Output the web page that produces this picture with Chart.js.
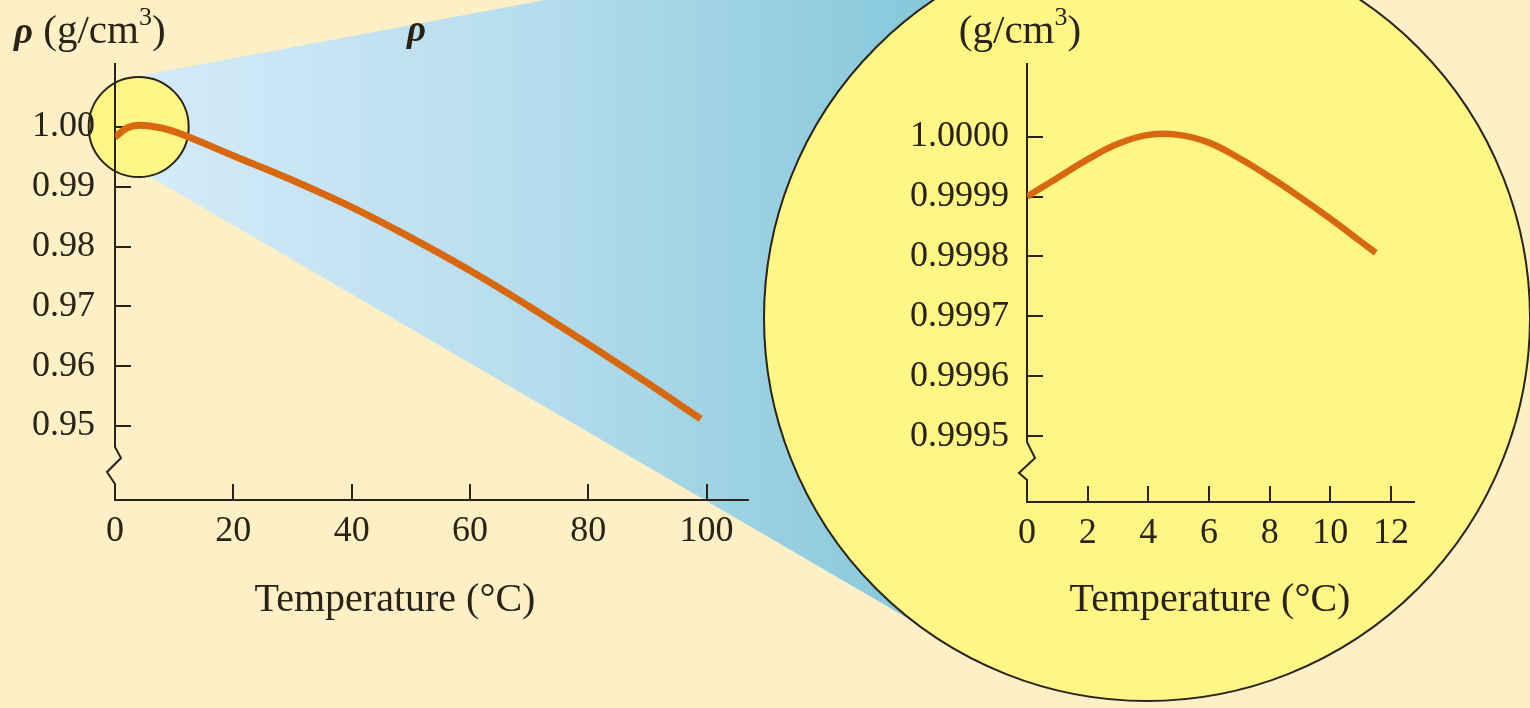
<!DOCTYPE html>
<html>
<head>
<meta charset="utf-8">
<title>Density of water vs temperature</title>
<script src="https://cdn.jsdelivr.net/npm/chart.js@4.4.1/dist/chart.umd.min.js"></script>
<style>
  html, body { margin: 0; padding: 0; background: #fdf0c6; overflow: hidden; }
  #wrap { position: relative; width: 1530px; height: 708px; }
  #wrap canvas { position: absolute; left: 0; top: 0; }
</style>
</head>
<body>
<div id="wrap">
  <canvas id="full-chart" width="1530" height="708"></canvas>
  <canvas id="zoom-chart" width="1530" height="708"></canvas>
</div>
<script>
// Water density, 0-100 °C
const fullTemps   = [0, 2, 4, 8, 12, 20, 30, 40, 50, 60, 70, 80, 90, 99];
const fullDensity = [0.9983, 0.9998, 1.0003, 0.9998, 0.9985, 0.9952, 0.9911,
                     0.9866, 0.9815, 0.9760, 0.9700, 0.9637, 0.9572, 0.9512];
const fullXTicks  = [0, 20, 40, 60, 80, 100];
const fullYTicks  = [0.95, 0.96, 0.97, 0.98, 0.99, 1.00];

// Close-up around the maximum, 0-12 °C
const zoomTemps   = [0, 1, 2, 3, 4, 5, 6, 7, 8, 9, 10, 11, 11.5];
const zoomDensity = [0.999900, 0.999931, 0.999962, 0.999988, 1.000003, 1.000003,
                     0.999990, 0.999964, 0.999933, 0.999899, 0.999863, 0.999825, 0.999806];
const zoomXTicks  = [0, 2, 4, 6, 8, 10, 12];
const zoomYTicks  = [0.9995, 0.9996, 0.9997, 0.9998, 0.9999, 1.0000];

const CREAM  = '#fdf0c6';
const YELLOW = '#fff686';
const INK    = '#2a2417';
const CURVE  = '#d8680f';
const SERIF  = "'Liberation Serif', 'DejaVu Serif', serif";
const TICK_FONT = { family: SERIF, size: 36 };
const TICK_LEN = 16;

function points(xs, ys) {
  return xs.map((x, i) => ({ x: x, y: ys[i] }));
}

// draw a row of text pieces (for superscripts), left/center aligned on a baseline
function drawRuns(ctx, runs, x, y, align) {
  let total = 0;
  runs.forEach(r => { ctx.font = r.font; total += ctx.measureText(r.text).width; });
  let cx = align === 'center' ? x - total / 2 : x;
  ctx.textBaseline = 'alphabetic';
  ctx.textAlign = 'left';
  runs.forEach(r => {
    ctx.font = r.font;
    ctx.fillText(r.text, cx, y + (r.dy || 0));
    cx += ctx.measureText(r.text).width;
  });
}

const unitRuns = [
  { text: '(g/cm', font: `41px ${SERIF}` },
  { text: '3', font: `26px ${SERIF}`, dy: -18 },
  { text: ')', font: `41px ${SERIF}` }
];
const rhoRun = { text: 'ρ', font: `italic bold 37px ${SERIF}` };

// cream page, blue magnifier wedge, both circles
const backdropPlugin = {
  id: 'backdrop',
  beforeDraw(chart) {
    const { ctx, width, height, scales: { x, y } } = chart;
    const cx = x.getPixelForValue(4), cy = y.getPixelForValue(1.0);
    ctx.save();
    ctx.fillStyle = CREAM;
    ctx.fillRect(0, 0, width, height);

    const grad = ctx.createLinearGradient(cx, 0, 920, 0);
    grad.addColorStop(0, '#d5ebf8');
    grad.addColorStop(0.5, '#b6dded');
    grad.addColorStop(1, '#86c8db');
    ctx.fillStyle = grad;
    ctx.beginPath();
    ctx.moveTo(cx, cy);
    ctx.lineTo(cx, cy - 51);
    ctx.lineTo(545, 0);
    ctx.lineTo(1200, 0);
    ctx.lineTo(1200, 660);
    ctx.lineTo(1000, 672);
    ctx.lineTo(cx + 12, cy + 50);
    ctx.closePath();
    ctx.fill();

    ctx.fillStyle = YELLOW;
    ctx.strokeStyle = INK;
    ctx.lineWidth = 2;
    ctx.beginPath();
    ctx.arc(1147, 318, 383, 0, Math.PI * 2);
    ctx.fill();
    ctx.stroke();

    ctx.beginPath();
    ctx.arc(cx, cy, 50, 0, Math.PI * 2);
    ctx.fill();
    ctx.stroke();
    ctx.restore();
  }
};

// tick marks pointing into the plot, and the y axis with its break mark
const axisPlugin = {
  id: 'inwardAxes',
  beforeDatasetsDraw(chart, args, opts) {
    const { ctx, chartArea: a, scales: { x, y } } = chart;
    ctx.save();
    ctx.strokeStyle = INK;
    ctx.lineWidth = 2;
    ctx.beginPath();
    x.ticks.forEach(t => {
      if (t.value === 0) return;
      const px = Math.round(x.getPixelForValue(t.value));
      ctx.moveTo(px, a.bottom);
      ctx.lineTo(px, a.bottom - TICK_LEN);
    });
    y.ticks.forEach(t => {
      const py = Math.round(y.getPixelForValue(t.value));
      ctx.moveTo(a.left, py);
      ctx.lineTo(a.left + TICK_LEN, py);
    });
    ctx.moveTo(a.left, a.top);
    opts.breakPath.forEach(([dx, dy]) => ctx.lineTo(a.left + dx, a.bottom + dy));
    ctx.stroke();
    ctx.restore();
  }
};

const labelPlugin = {
  id: 'axisText',
  afterDraw(chart, args, opts) {
    const ctx = chart.ctx;
    ctx.save();
    ctx.fillStyle = INK;
    opts.items.forEach(it => drawRuns(ctx, it.runs, it.x, it.y, it.align));
    ctx.restore();
  }
};

function lineDataset(xs, ys, width) {
  return {
    data: points(xs, ys),
    borderColor: CURVE,
    borderWidth: width,
    borderCapStyle: 'butt',
    borderJoinStyle: 'round',
    pointRadius: 0,
    tension: 0.4,
    fill: false
  };
}

function linearAxis(min, max, ticks, fmt, pad, fit, isY) {
  return {
    type: 'linear',
    min: min,
    max: max,
    afterBuildTicks: s => { s.ticks = ticks.map(v => ({ value: v })); },
    afterFit: s => { if (isY) s.width = fit; else s.height = fit; },
    grid: { display: false, drawTicks: false },
    border: { display: !isY, color: INK, width: 2 },
    ticks: {
      font: TICK_FONT, color: INK, padding: pad,
      autoSkip: false, maxRotation: 0,
      callback: v => fmt(v)
    }
  };
}

new Chart(document.getElementById('full-chart'), {
  type: 'line',
  data: { datasets: [lineDataset(fullTemps, fullDensity, 7)] },
  options: {
    responsive: false,
    animation: false,
    events: [],
    layout: { padding: { left: 0, top: 63, right: 782, bottom: 0 } },
    plugins: {
      legend: { display: false },
      tooltip: { enabled: false },
      inwardAxes: { breakPath: [[0, -53], [6, -42], [-8, -28], [0, -16], [0, 0]] },
      axisText: {
        items: [
          { runs: [rhoRun, { text: ' ', font: `41px ${SERIF}` }, ...unitRuns], x: 14, y: 43, align: 'left' },
          { runs: [{ text: 'Temperature (°C)', font: `40px ${SERIF}` }], x: 395, y: 611, align: 'center' },
          { runs: [rhoRun], x: 407, y: 41, align: 'left' }
        ]
      }
    },
    scales: {
      x: linearAxis(0, 107, fullXTicks, v => String(v), 10, 208, false),
      y: linearAxis(0.93763, 1.0107, fullYTicks, v => v.toFixed(2), 20, 115, true)
    }
  },
  plugins: [backdropPlugin, axisPlugin, labelPlugin]
});

new Chart(document.getElementById('zoom-chart'), {
  type: 'line',
  data: { datasets: [lineDataset(zoomTemps, zoomDensity, 6.5)] },
  options: {
    responsive: false,
    animation: false,
    events: [],
    layout: { padding: { left: 867, top: 63, right: 116, bottom: 0 } },
    plugins: {
      legend: { display: false },
      tooltip: { enabled: false },
      inwardAxes: { breakPath: [[0, -60], [8, -44], [-8, -29], [0, -22], [0, 0]] },
      axisText: {
        items: [
          { runs: unitRuns, x: 1020, y: 43, align: 'center' },
          { runs: [{ text: 'Temperature (°C)', font: `40px ${SERIF}` }], x: 1210, y: 611, align: 'center' }
        ]
      }
    },
    scales: {
      x: linearAxis(0, 12.76, zoomXTicks, v => String(v), 10, 206, false),
      y: linearAxis(0.999390, 1.000123, zoomYTicks, v => v.toFixed(4), 18, 160, true)
    }
  },
  plugins: [axisPlugin, labelPlugin]
});
</script>
</body>
</html>
